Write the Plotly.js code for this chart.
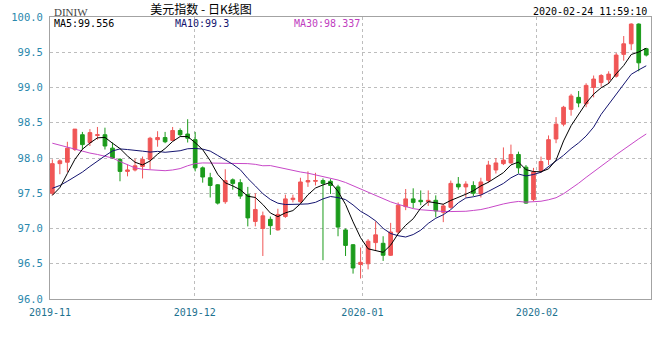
<!DOCTYPE html>
<html><head><meta charset="utf-8">
<script src="https://cdn.plot.ly/plotly-3.0.1.min.js"></script>
<style>html,body{margin:0;padding:0;background:#fff}#chart{width:660px;height:360px}</style>
</head><body><div id="chart"></div>
<script>
// Daily OHLC of US Dollar Index (DINIW), one entry per trading day
const opens  = [97.50,97.92,97.94,98.12,98.33,98.22,98.32,98.33,98.14,97.98,
                97.81,97.83,97.88,97.98,98.26,98.29,98.25,98.39,98.34,98.26,
                97.86,97.72,97.62,97.38,97.69,97.65,97.48,97.10,97.00,97.13,
                96.98,97.17,97.41,97.38,97.66,97.67,97.68,97.67,97.59,96.98,
                96.77,96.49,96.50,96.80,96.79,96.62,96.95,97.31,97.42,97.40,
                97.38,97.40,97.23,97.30,97.63,97.59,97.61,97.49,97.68,97.83,
                97.92,97.93,98.05,97.87,97.41,97.82,97.98,98.27,98.48,98.69,
                98.86,98.77,99.00,99.07,99.11,99.16,99.47,99.62,99.90,99.55];
const highs  = [97.98,97.98,98.23,98.41,98.37,98.41,98.44,98.43,98.22,98.00,
                97.91,97.99,98.02,98.30,98.38,98.37,98.44,98.42,98.55,98.37,
                97.88,97.79,97.63,97.84,97.71,97.70,97.59,97.50,97.24,97.17,
                97.28,97.48,97.48,97.72,97.81,97.79,97.71,97.70,97.62,97.00,
                96.78,96.73,96.85,97.10,96.89,97.08,97.37,97.56,97.57,97.54,
                97.54,97.47,97.35,97.68,97.73,97.67,97.67,97.72,97.96,98.00,
                98.15,98.19,98.09,97.90,97.86,98.02,98.32,98.58,98.74,98.91,
                98.95,99.06,99.17,99.19,99.23,99.49,99.73,99.91,99.91,99.56];
const lows   = [97.47,97.77,97.80,98.10,98.12,98.17,98.26,98.12,97.99,97.67,
                97.74,97.81,97.71,97.84,98.16,98.21,98.24,98.31,98.22,97.81,
                97.65,97.44,97.34,97.35,97.55,97.42,97.03,97.03,96.61,96.91,
                96.97,97.15,97.37,97.36,97.59,97.61,96.55,97.49,96.89,96.61,
                96.36,96.29,96.42,96.68,96.54,96.61,96.92,97.26,97.29,97.33,
                97.32,97.16,97.09,97.28,97.55,97.44,97.46,97.44,97.65,97.78,
                97.90,97.92,97.78,97.35,97.39,97.79,97.90,98.21,98.45,98.60,
                98.72,98.72,98.86,99.01,99.05,99.14,99.38,99.53,99.23,99.44];
const closes = [97.92,97.96,98.14,98.41,98.19,98.36,98.33,98.17,98.00,97.81,
                97.83,97.89,97.98,98.28,98.29,98.23,98.39,98.33,98.28,97.86,
                97.73,97.61,97.36,97.68,97.64,97.46,97.15,97.27,97.18,97.04,
                97.20,97.42,97.43,97.66,97.68,97.68,97.64,97.61,97.02,96.76,
                96.44,96.52,96.82,96.91,96.62,96.95,97.33,97.42,97.37,97.38,
                97.40,97.25,97.32,97.64,97.59,97.63,97.50,97.66,97.90,97.93,
                97.97,98.05,97.86,97.36,97.80,97.95,98.26,98.48,98.72,98.88,
                98.78,99.03,99.12,99.17,99.19,99.46,99.62,99.90,99.35,99.46];

// Moving-average values before a full window is available
const ma5Head  = [97.47,97.58,97.78,97.98];
const ma10Head = [97.57,97.61,97.67,97.73,97.80,97.88,97.96,98.03,98.10];
const ma30Head = [98.21,98.18,98.15,98.12,98.10,98.07,98.05,98.03,98.00,97.95,
                  97.90,97.86,97.84,97.83,97.82,97.82,97.83,97.85,97.89,97.92,
                  97.93,97.93,97.92,97.92,97.92,97.92,97.92,97.91,97.89];

const tickLabels = ['2019-11','2019-12','2020-01','2020-02'];
const maLabels = ['MA5:99.556','MA10:99.3','MA30:98.337'];
const chartTitle = '美元指数 - 日K线图';
const symbolName = 'DINIW';
const stamp = '2020-02-24 11:59:10';

const idx = closes.map((_, i) => i);
function movingAvg(n, head) {
  return closes.map((c, i) => {
    if (i < n - 1) return head[i];
    let s = 0;
    for (let k = i - n + 1; k <= i; k++) s += closes[k];
    return s / n;
  });
}

const RED = '#f05656', GREEN = '#1b9b1b';
const traces = [
  {type:'candlestick', x: idx, open: opens, high: highs, low: lows, close: closes,
   increasing:{line:{color:RED, width:1}, fillcolor:RED},
   decreasing:{line:{color:GREEN, width:1}, fillcolor:GREEN},
   whiskerwidth:0, hoverinfo:'skip', showlegend:false},
  {type:'scatter', mode:'lines', x: idx, y: movingAvg(30, ma30Head), line:{color:'#c848c8', width:1}, hoverinfo:'skip', showlegend:false},
  {type:'scatter', mode:'lines', x: idx, y: movingAvg(10, ma10Head), line:{color:'#141470', width:1}, hoverinfo:'skip', showlegend:false},
  {type:'scatter', mode:'lines', x: idx, y: movingAvg(5, ma5Head), line:{color:'#000000', width:1}, hoverinfo:'skip', showlegend:false}
];

const L = 50, R = 651, T = 17, B = 299;
const px = p => (p - L) / (R - L);
const py = p => (B - p) / (B - T);
const mono = 'DejaVu Sans Mono';

const layout = {
  width: 660, height: 360,
  margin: {l: L, r: 660 - R, t: T, b: 360 - B, pad: 0},
  paper_bgcolor: '#ffffff', plot_bgcolor: '#ffffff',
  showlegend: false, hovermode: false,
  title: {text: chartTitle, x: 201/660, xref: 'container', xanchor: 'center',
          y: 1 - 10/360, yref: 'container', yanchor: 'middle',
          font: {family: 'Noto Sans CJK SC', size: 12, color: '#000'}},
  xaxis: {range: [-0.31, 79.63], tickmode: 'array',
          tickvals: [-0.3, 18.95, 41.25, 64.46], ticktext: tickLabels,
          showgrid: true, gridcolor: '#bdbdbd', griddash: 'dot', gridwidth: 1,
          zeroline: false, showline: true, mirror: true, linecolor: '#a3a3a3', linewidth: 1,
          ticks: '', ticklabelstandoff: 4,
          tickfont: {family: mono, size: 10, color: '#1d7290'},
          rangeslider: {visible: false}, fixedrange: true},
  yaxis: {range: [96, 100], tick0: 96, dtick: 0.5, tickformat: '.1f',
          showgrid: true, gridcolor: '#bdbdbd', griddash: 'dot', gridwidth: 1,
          zeroline: false, showline: true, mirror: true, linecolor: '#a3a3a3', linewidth: 1,
          ticks: '', ticklabelstandoff: 4,
          tickfont: {family: mono, size: 10.5, color: '#2a88ad'}, fixedrange: true},
  annotations: [
    {text: symbolName, xref: 'paper', yref: 'paper', x: px(52), y: py(11.5), xanchor: 'left', yanchor: 'middle',
     showarrow: false, font: {family: 'Liberation Serif', size: 11, color: '#444'}},
    {text: maLabels[0], xref: 'paper', yref: 'paper', x: px(52), y: py(24), xanchor: 'left', yanchor: 'middle',
     showarrow: false, font: {family: mono, size: 10, color: '#000'}},
    {text: maLabels[1], xref: 'paper', yref: 'paper', x: px(173), y: py(24), xanchor: 'left', yanchor: 'middle',
     showarrow: false, font: {family: mono, size: 10, color: '#141470'}},
    {text: maLabels[2], xref: 'paper', yref: 'paper', x: px(292), y: py(24), xanchor: 'left', yanchor: 'middle',
     showarrow: false, font: {family: mono, size: 10, color: '#c040c0'}},
    {text: stamp, xref: 'paper', yref: 'paper', x: px(649), y: py(11.5), xanchor: 'right', yanchor: 'middle',
     showarrow: false, font: {family: mono, size: 10, color: '#000'}}
  ]
};

Plotly.newPlot('chart', traces, layout, {displayModeBar: false, staticPlot: true});
</script>
</body></html>
